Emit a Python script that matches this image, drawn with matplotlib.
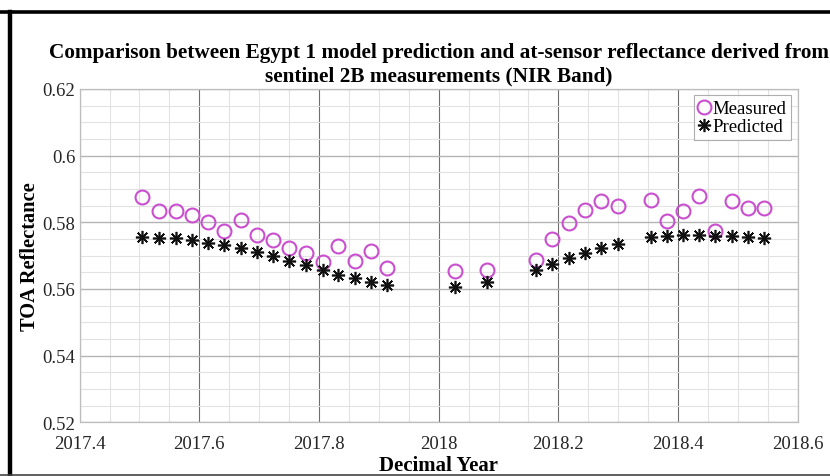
import matplotlib
matplotlib.use("Agg")
import matplotlib.pyplot as plt
from matplotlib.lines import Line2D
from matplotlib.ticker import MultipleLocator

# Acquisition dates (decimal year), Sentinel-2B passes
decimal_year = [
    2017.505, 2017.533, 2017.561, 2017.587, 2017.615, 2017.642, 2017.669, 2017.696,
    2017.723, 2017.750, 2017.778, 2017.806, 2017.832, 2017.860, 2017.887, 2017.914,
    2018.027, 2018.081, 2018.163, 2018.190, 2018.218, 2018.245, 2018.272, 2018.300,
    2018.354, 2018.381, 2018.408, 2018.435, 2018.462, 2018.490, 2018.517, 2018.544,
]

# At-sensor TOA reflectance, NIR band
measured = [
    0.5877, 0.5833, 0.5835, 0.5822, 0.5802, 0.5775, 0.5808, 0.5762,
    0.5748, 0.5724, 0.5708, 0.5680, 0.5728, 0.5684, 0.5713, 0.5664,
    0.5655, 0.5658, 0.5688, 0.5749, 0.5799, 0.5838, 0.5864, 0.5848,
    0.5867, 0.5803, 0.5835, 0.5878, 0.5775, 0.5865, 0.5844, 0.5843,
]

# Egypt 1 model prediction
predicted = [
    0.5757, 0.5754, 0.5752, 0.5747, 0.5738, 0.5732, 0.5723, 0.5712,
    0.5700, 0.5685, 0.5673, 0.5658, 0.5643, 0.5633, 0.5622, 0.5612,
    0.5605, 0.5620, 0.5658, 0.5674, 0.5692, 0.5707, 0.5723, 0.5735,
    0.5755, 0.5760, 0.5763, 0.5763, 0.5760, 0.5758, 0.5756, 0.5752,
]

x_ticks = [2017.4, 2017.6, 2017.8, 2018.0, 2018.2, 2018.4, 2018.6]
x_tick_labels = ["2017.4", "2017.6", "2017.8", "2018", "2018.2", "2018.4", "2018.6"]
y_ticks = [0.52, 0.54, 0.56, 0.58, 0.6, 0.62]
y_tick_labels = ["0.52", "0.54", "0.56", "0.58", "0.6", "0.62"]

title_line1 = "Comparison between Egypt 1 model prediction and at-sensor reflectance derived from"
title_line2 = "sentinel 2B measurements (NIR Band)"

plt.rcParams["font.family"] = ["Liberation Serif", "DejaVu Serif"]

fig = plt.figure(figsize=(8.3, 4.77), dpi=100)
ax = fig.add_axes([0.0959, 0.1124, 0.8653, 0.6991])

ax.set_xlim(2017.4, 2018.6)
ax.set_ylim(0.52, 0.62)
ax.set_xticks(x_ticks)
ax.set_xticklabels(x_tick_labels)
ax.set_yticks(y_ticks)
ax.set_yticklabels(y_tick_labels)
ax.xaxis.set_minor_locator(MultipleLocator(0.05))
ax.yaxis.set_minor_locator(MultipleLocator(0.005))
ax.tick_params(which="both", length=0, labelsize=13.5, colors="#262626")
ax.tick_params(axis="x", pad=9)
ax.tick_params(axis="y", pad=3)

# Grid: light minor lines, stronger major lines
ax.set_axisbelow(True)
ax.grid(which="minor", color="#e2e2e2", linewidth=0.8)
ax.xaxis.grid(which="major", color="#6e6e6e", linewidth=0.8)
ax.yaxis.grid(which="major", color="#b4b4b4", linewidth=1.0)
for sp in ax.spines.values():
    sp.set_color("#bdbdbd")
    sp.set_linewidth(0.9)

ax.plot(decimal_year, measured, linestyle="none", marker="o", markersize=10,
        markerfacecolor="none", markeredgecolor="#c94fcf", markeredgewidth=1.5,
        label="Measured")
ax.plot(decimal_year, predicted, linestyle="none", marker=(8, 2, 0), markersize=9.5,
        markeredgecolor="#111111", markeredgewidth=1.2, color="#111111",
        label="Predicted")

# Two-line title, each line placed on its own
ax.text(0.5, 1.112, title_line1, transform=ax.transAxes, ha="center", va="center",
        fontsize=15.3, fontweight="bold")
ax.text(0.5, 1.040, title_line2, transform=ax.transAxes, ha="center", va="center",
        fontsize=15.3, fontweight="bold")

ax.set_xlabel("Decimal Year", fontsize=15, fontweight="bold", labelpad=2)
ax.set_ylabel("TOA Reflectance", fontsize=14.7, fontweight="bold", labelpad=2)

leg = ax.legend(loc="upper right", fontsize=13.5, frameon=True, fancybox=False,
                borderaxespad=0.35, handlelength=0.6, handletextpad=0.15,
                borderpad=0.25, labelspacing=0.05)
leg.get_frame().set_edgecolor("#9a9a9a")
leg.get_frame().set_linewidth(0.8)

# Outer frame around the figure
fig.add_artist(Line2D([0.0, 1.0], [0.972, 0.972], transform=fig.transFigure,
                      color="black", linewidth=2.6))
fig.add_artist(Line2D([0.0125, 0.0125], [0.0, 0.972], transform=fig.transFigure,
                      color="black", linewidth=3.2))
fig.add_artist(Line2D([0.0, 1.0], [0.003, 0.003], transform=fig.transFigure,
                      color="#444444", linewidth=1.2))

fig.savefig("out.png", dpi=100)
